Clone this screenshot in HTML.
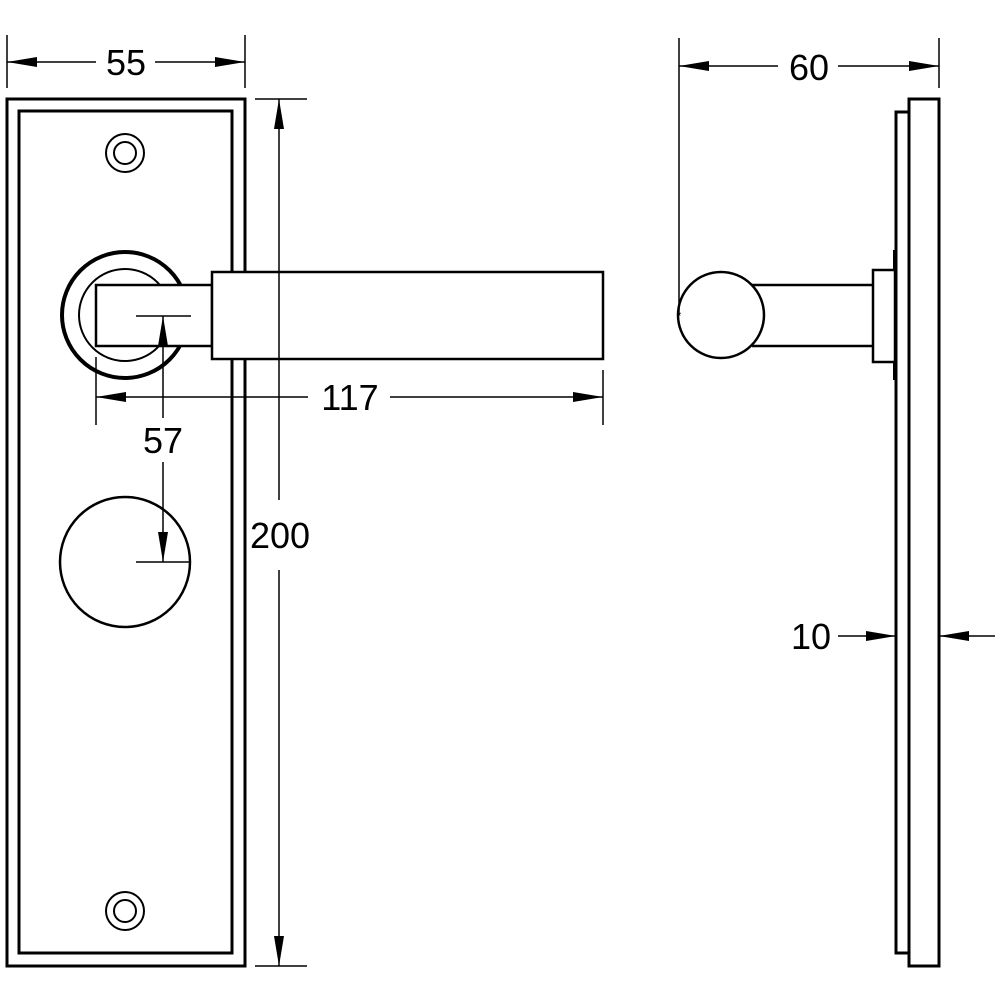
<!DOCTYPE html>
<html><head><style>html,body{margin:0;padding:0;background:#fff}svg{display:block}</style></head>
<body>
<svg width="1000" height="1000" viewBox="0 0 1000 1000" xmlns="http://www.w3.org/2000/svg">
<defs>
<marker id="a" viewBox="0 0 30 10" refX="30" refY="5" markerWidth="30" markerHeight="10" markerUnits="userSpaceOnUse" orient="auto-start-reverse"><path d="M0,0 L30,5 L0,10 Z" fill="#000"/></marker>
</defs>
<g fill="none" stroke="#000">
<rect x="7" y="99" width="238" height="867" stroke-width="3"/>
<rect x="19" y="111" width="213" height="842" stroke-width="3"/>
<circle cx="125" cy="153" r="19" stroke-width="2"/>
<circle cx="125" cy="153" r="11" stroke-width="2"/>
<circle cx="125" cy="911" r="19" stroke-width="2"/>
<circle cx="125" cy="911" r="11" stroke-width="2"/>
<circle cx="125" cy="315" r="63" stroke-width="4" fill="#fff"/>
<circle cx="125" cy="315" r="46" stroke-width="2"/>
<rect x="96" y="285" width="116" height="61" stroke-width="2.5" fill="#fff"/>
<rect x="212" y="272" width="391" height="87" stroke-width="2.5" fill="#fff"/>
<circle cx="125" cy="562" r="65" stroke-width="2.5"/>
<line x1="7" y1="35" x2="7" y2="88" stroke-width="1.5"/>
<line x1="245" y1="35" x2="245" y2="88" stroke-width="1.5"/>
<line x1="96" y1="62" x2="7" y2="62" stroke-width="1.5" marker-end="url(#a)"/>
<line x1="155" y1="62" x2="245" y2="62" stroke-width="1.5" marker-end="url(#a)"/>
<line x1="255" y1="99" x2="307" y2="99" stroke-width="1.5"/>
<line x1="255" y1="966" x2="307" y2="966" stroke-width="1.5"/>
<line x1="279" y1="500" x2="279" y2="99" stroke-width="1.5" marker-end="url(#a)"/>
<line x1="279" y1="570" x2="279" y2="966" stroke-width="1.5" marker-end="url(#a)"/>
<line x1="96" y1="357" x2="96" y2="425" stroke-width="1.5"/>
<line x1="603" y1="370" x2="603" y2="425" stroke-width="1.5"/>
<line x1="308" y1="397" x2="96" y2="397" stroke-width="1.5" marker-end="url(#a)"/>
<line x1="390" y1="397" x2="603" y2="397" stroke-width="1.5" marker-end="url(#a)"/>
<line x1="136" y1="316" x2="191" y2="316" stroke-width="1.5"/>
<line x1="136" y1="562" x2="191" y2="562" stroke-width="1.5"/>
<line x1="163" y1="418" x2="163" y2="316" stroke-width="1.5" marker-end="url(#a)"/>
<line x1="163" y1="462" x2="163" y2="562" stroke-width="1.5" marker-end="url(#a)"/>
<rect x="909" y="99" width="30" height="867" stroke-width="3"/>
<rect x="896" y="112" width="13" height="841" stroke-width="3"/>
<line x1="894" y1="250" x2="894" y2="380" stroke-width="2"/>
<rect x="873" y="270" width="22" height="92" stroke-width="2.5" fill="#fff"/>
<line x1="752" y1="285" x2="873" y2="285" stroke-width="2.5"/>
<line x1="752" y1="346" x2="873" y2="346" stroke-width="2.5"/>
<circle cx="721" cy="315" r="43" stroke-width="2.5" fill="#fff"/>
<line x1="679" y1="38" x2="679" y2="315" stroke-width="1.5"/>
<line x1="939" y1="38" x2="939" y2="88" stroke-width="1.5"/>
<line x1="778" y1="66" x2="679" y2="66" stroke-width="1.5" marker-end="url(#a)"/>
<line x1="838" y1="66" x2="939" y2="66" stroke-width="1.5" marker-end="url(#a)"/>
<line x1="838" y1="636" x2="896" y2="636" stroke-width="1.5" marker-end="url(#a)"/>
<line x1="995" y1="636" x2="939" y2="636" stroke-width="1.5" marker-end="url(#a)"/>
</g>
<g font-family="Liberation Sans, sans-serif" font-size="36" fill="#000" text-anchor="middle">
<text x="126" y="75">55</text>
<text x="280" y="548">200</text>
<text x="350" y="410">117</text>
<text x="163" y="453">57</text>
<text x="809" y="80">60</text>
<text x="811" y="649">10</text>
</g>
<text x="679" y="320" font-family="Liberation Sans, sans-serif" font-size="12" text-anchor="middle">*</text>
</svg>
</body></html>
